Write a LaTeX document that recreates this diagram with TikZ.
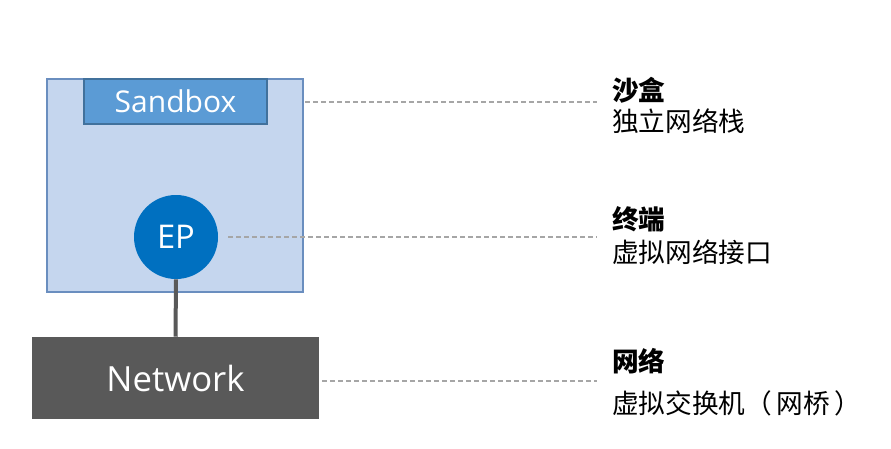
\documentclass[tikz,border=0pt]{standalone}
\usepackage{fontspec}
\setsansfont{Open Sans}
\newfontfamily\cjk{Noto Sans CJK SC}
\begin{document}
\begin{tikzpicture}[x=0.75pt,y=-0.75pt,
  outerbox/.style={draw=outerline,fill=outerfill,line width=1.2pt,minimum width=256*0.75pt,minimum height=213*0.75pt,inner sep=0pt},
  labelbox/.style={draw=labelline,fill=labelfill,line width=1.2pt,minimum width=183*0.75pt,minimum height=45*0.75pt,inner sep=0pt,text=white,font=\sffamily\fontsize{22.5}{24}\selectfont},
  epnode/.style={circle,fill=epfill,minimum size=84*0.75pt,inner sep=0pt,text=white,font=\sffamily\fontsize{24.5}{26}\selectfont},
  netbox/.style={fill=netfill,minimum width=287*0.75pt,minimum height=82*0.75pt,inner sep=0pt,text=white,font=\sffamily\fontsize{26}{28}\selectfont},
  link/.style={draw=netfill,line width=3pt},
  guide/.style={draw=guidegray,line width=1pt,dash pattern=on 3.5pt off 2.5pt},
  head/.style={anchor=west,inner sep=0pt,font=\cjk\bfseries\fontsize{20}{22}\selectfont},
  sub/.style={anchor=west,inner sep=0pt,font=\cjk\fontsize{20}{22}\selectfont}
]
\definecolor{outerline}{HTML}{6A8EBF}
\definecolor{outerfill}{HTML}{C5D6EE}
\definecolor{labelline}{HTML}{41719C}
\definecolor{labelfill}{HTML}{5B9BD5}
\definecolor{epfill}{HTML}{0070C0}
\definecolor{netfill}{HTML}{595959}
\definecolor{guidegray}{HTML}{A6A6A6}
\useasboundingbox (0,0) rectangle (891,449);
\fill[white] (0,0) rectangle (891,449);

\node[outerbox] (outer) at (175,185.5) {};
\node[labelbox] (sandbox) at (175.5,101.5) {Sandbox};
\node[epnode] (ep) at (176,237) {EP};
\node[netbox] (net) at (175.5,378) {Network};
\draw[link] (ep.south) -- (net.north);

\coordinate (e1) at (597,102);
\coordinate (e2) at (597,237);
\coordinate (e3) at (597,381);
\coordinate (s2) at (228,237);
\draw[guide] (outer.east |- e1) ++(1.5,0) -- (e1);
\draw[guide] (s2) -- (e2);
\draw[guide] (net.east |- e3) ++(3,0) -- (e3);

\node[head] (h1) at (612,90) {沙盒};
\node[sub] (t1) at (612,121) {独立网络栈};
\node[head] (h2) at (612,219) {终端};
\node[sub] (t2) at (612,252) {虚拟网络接口};
\node[head] (h3) at (612,361) {网络};
\node[sub] (t3) at (612,403) {虚拟交换机（\,网桥\,）};
\end{tikzpicture}
\end{document}
